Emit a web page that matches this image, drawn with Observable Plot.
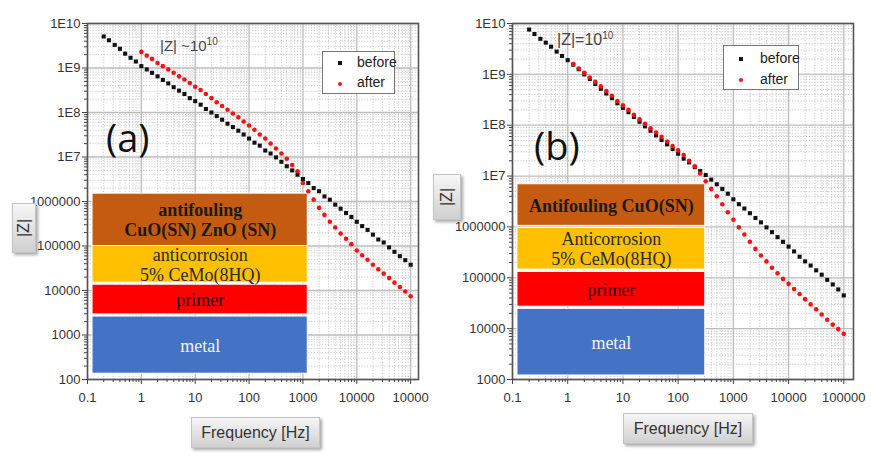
<!DOCTYPE html>
<html><head><meta charset="utf-8">
<script src="https://cdn.jsdelivr.net/npm/d3@7"></script>
<script src="https://cdn.jsdelivr.net/npm/@observablehq/plot@0.6"></script>
<style>
body{margin:0;background:#fff;}
#wrap{position:relative;width:871px;height:456px;overflow:hidden;font-family:"Liberation Sans",Arial,sans-serif;}
.panel{position:absolute;top:0;}
.btn{position:absolute;background:linear-gradient(#f6f6f6,#d0d0d0);border:1px solid #c4c4c4;box-shadow:2px 2px 3px rgba(0,0,0,0.35);color:#333;display:flex;align-items:center;justify-content:center;font-size:16px;box-sizing:border-box;}
.legend{position:absolute;border:1px solid #777;background:#fff;font-size:14px;color:#222;box-sizing:border-box;}
.legend span{position:absolute;}
.mk{width:4px;height:4px;}
.ann{position:absolute;font-size:15px;color:#444;white-space:nowrap;}
.ann sup{font-size:10px;}
.big{position:absolute;font-family:"Open Sans","Noto Sans",sans-serif;font-size:38px;color:#111;line-height:1;}
</style>
</head><body>
<div id="wrap"></div>
<script>
// ---------- data ----------
const freq = [0.2, 0.25, 0.32, 0.4, 0.5, 0.63, 0.79,
  1, 1.26, 1.58, 2, 2.51, 3.16, 3.98, 5.01, 6.31, 7.94,
  10, 12.6, 15.8, 20, 25.1, 31.6, 39.8, 50.1, 63.1, 79.4,
  100, 126, 158, 200, 251, 316, 398, 501, 631, 794,
  1000, 1259, 1585, 1995, 2512, 3162, 3981, 5012, 6310, 7943,
  10000, 12589, 15849, 19953, 25119, 31623, 39811, 50119, 63096, 79433,
  100000];

const zBeforeA = [5.1e9, 4.2e9, 3.3e9, 2.7e9, 2.1e9, 1.7e9, 1.4e9,
  1.1e9, 9.3e8, 7.8e8, 6.5e8, 5.4e8, 4.5e8, 3.7e8, 3.1e8, 2.6e8, 2.1e8,
  1.8e8, 1.5e8, 1.2e8, 1.0e8, 8.3e7, 6.9e7, 5.6e7, 4.7e7, 3.9e7, 3.2e7,
  2.6e7, 2.1e7, 1.8e7, 1.4e7, 1.2e7, 9.8e6, 7.8e6, 6.2e6, 5.0e6, 4.0e6,
  3.2e6, 2.6e6, 2.0e6, 1.7e6, 1.3e6, 1.1e6, 8.5e5, 6.9e5, 5.5e5, 4.5e5,
  3.5e5, 2.8e5, 2.3e5, 1.8e5, 1.4e5, 1.2e5, 9.3e4, 7.4e4, 5.9e4, 4.8e4,
  3.8e4];
const freqAfterA = freq.slice(7);
const zAfterA = [2.3e9, 1.9e9, 1.6e9, 1.3e9, 1.1e9, 9.3e8, 7.8e8, 6.5e8, 5.5e8, 4.6e8,
  3.8e8, 3.2e8, 2.6e8, 2.1e8, 1.7e8, 1.4e8, 1.15e8, 9.5e7, 7.8e7, 6.3e7,
  5.1e7, 4.1e7, 3.2e7, 2.6e7, 2.0e7, 1.55e7, 1.2e7, 9.1e6, 6.6e6, 4.8e6,
  2.6e6, 1.7e6, 1.1e6, 7.2e5, 5.0e5, 3.5e5, 2.6e5, 1.9e5, 1.45e5, 1.1e5,
  7.9e4, 6.2e4, 4.9e4, 3.8e4, 3.0e4, 2.4e4, 1.9e4, 1.5e4, 1.2e4, 9.5e3,
  7.4e3];

const zBeforeB = [7.6e9, 6.2e9, 5.0e9, 4.2e9, 3.5e9, 2.8e9, 2.3e9,
  1.9e9, 1.55e9, 1.26e9, 1.0e9, 8.1e8, 6.5e8, 5.2e8, 4.2e8, 3.4e8, 2.7e8,
  2.2e8, 1.8e8, 1.45e8, 1.17e8, 9.5e7, 7.8e7, 6.3e7, 5.1e7, 4.2e7, 3.4e7,
  2.75e7, 2.2e7, 1.86e7, 1.5e7, 1.26e7, 1.05e7, 8.5e6, 6.9e6, 5.6e6, 4.5e6,
  3.5e6, 2.8e6, 2.3e6, 1.86e6, 1.5e6, 1.23e6, 9.8e5, 7.9e5, 6.3e5, 5.1e5,
  4.1e5, 3.3e5, 2.6e5, 2.1e5, 1.74e5, 1.4e5, 1.15e5, 9.1e4, 7.4e4, 5.9e4,
  4.5e4];
const freqAfterB = freq.slice(8);
const zAfterB = [1.6e9, 1.3e9, 1.07e9, 8.7e8, 7.1e8, 5.8e8, 4.7e8, 3.8e8, 3.0e8, 2.45e8,
  2.0e8, 1.6e8, 1.3e8, 1.07e8, 8.7e7, 7.2e7, 5.9e7, 4.8e7, 3.9e7, 3.2e7,
  2.6e7, 2.0e7, 1.55e7, 1.12e7, 7.9e6, 5.6e6, 4.0e6, 2.8e6, 1.95e6, 1.38e6,
  9.8e5, 7.1e5, 5.1e5, 3.7e5, 2.75e5, 2.1e5, 1.58e5, 1.23e5, 9.5e4, 7.6e4,
  6.0e4, 4.8e4, 3.8e4, 3.0e4, 2.4e4, 1.9e4, 1.5e4, 1.2e4, 9.8e3, 7.9e3];

// tick labels
const xTickValuesA = [0.1, 1, 10, 100, 1000, 10000, 100000];
const xTickLabelsA = ["0.1", "1", "10", "100", "1000", "10000", "10000"];
const xTickValuesB = [0.1, 1, 10, 100, 1000, 10000, 100000];
const xTickLabelsB = ["0.1", "1", "10", "100", "1000", "10000", "100000"];
const yTickValuesA = [100, 1000, 10000, 100000, 1000000, 1e7, 1e8, 1e9, 1e10];
const yTickLabelsA = ["100", "1000", "10000", "100000", "1000000", "1E7", "1E8", "1E9", "1E10"];
const yTickValuesB = [1000, 10000, 100000, 1000000, 1e7, 1e8, 1e9, 1e10];
const yTickLabelsB = ["1000", "10000", "100000", "1000000", "1E7", "1E8", "1E9", "1E10"];

// coating layers (extent in chart units)
const layerNamesA = ["antifouling\nCuO(SN) ZnO (SN)", "anticorrosion\n5% CeMo(8HQ)", "primer", "metal"];
const layerZTopA = [1.5e6, 1.0e5, 1.35e4, 2.6e3];
const layerZBottomA = [1.0e5, 1.5e4, 2.9e3, 135];
const layerFreqA = [0.124, 1230];
const layerNamesB = ["Antifouling CuO(SN)", "Anticorrosion\n5% CeMo(8HQ)", "primer", "metal"];
const layerZTopB = [6.9e6, 9.6e5, 1.3e5, 2.45e4];
const layerZBottomB = [1.05e6, 1.45e5, 2.7e4, 1.2e3];
const layerFreqB = [0.123, 310];
const layerColors = ["#C55A11", "#FFC000", "#FF0000", "#4472C4"];
const layerTextColors = ["#1a1a1a", "#2a2a2a", "#2a0000", "#f2f2f2"];
const layerBold = [true, false, false, false];

function minorTicks(domain) {
  const out = [];
  const e0 = Math.floor(Math.log10(domain[0])), e1 = Math.ceil(Math.log10(domain[1]));
  for (let e = e0; e <= e1; e++) for (let m = 2; m <= 9; m++) {
    const v = m * Math.pow(10, e);
    if (v > domain[0] && v < domain[1]) out.push(v);
  }
  return out;
}

function panel(o) {
  const xLab = new Map(o.xTicks.map((v, i) => [v, o.xLabels[i]]));
  const yLab = new Map(o.yTicks.map((v, i) => [v, o.yLabels[i]]));
  const mx = minorTicks(o.xDomain), my = minorTicks(o.yDomain);
  const before = o.freqB.map((f, i) => ({f, z: o.zB[i]}));
  const after = o.freqA.map((f, i) => ({f, z: o.zA[i]}));
  const layers = o.names.map((n, i) => ({name: n, x1: o.lf[0], x2: o.lf[1], y1: o.bot[i], y2: o.top[i],
    xc: Math.sqrt(o.lf[0] * o.lf[1]), yc: Math.sqrt(o.bot[i] * o.top[i]), i}));
  const textMarks = layers.map(L => Plot.text([L], {x: "xc", y: "yc", text: "name",
    fill: layerTextColors[L.i], fontFamily: "Liberation Serif, Times New Roman, serif",
    fontSize: 18, fontWeight: layerBold[L.i] ? "bold" : "normal", lineHeight: 1.12}));
  return Plot.plot({
    width: o.width, height: 420,
    marginLeft: o.ml, marginRight: o.mr, marginTop: 23, marginBottom: 41,
    style: {fontFamily: "Liberation Sans, Arial, sans-serif", fontSize: "13px", color: "#333", background: "transparent", overflow: "visible"},
    x: {type: "log", domain: o.xDomain, axis: null},
    y: {type: "log", domain: o.yDomain, axis: null},
    marks: [
      Plot.ruleX(mx, {stroke: "#c4c4c4", strokeDasharray: "1.2,1.6", strokeWidth: 0.9}),
      Plot.ruleY(my, {stroke: "#c4c4c4", strokeDasharray: "1.2,1.6", strokeWidth: 0.9}),
      Plot.ruleX(o.xTicks, {stroke: "#bdbdbd", strokeWidth: 1.3}),
      Plot.ruleY(o.yTicks, {stroke: "#bdbdbd", strokeWidth: 1.3}),
      Plot.rect(layers, {x1: "x1", x2: "x2", y1: "y1", y2: "y2", fill: (d) => layerColors[d.i], stroke: "#fff", strokeWidth: 1}),
      ...textMarks,
      Plot.dot(before, {x: "f", y: "z", symbol: "square", r: 2.3, fill: "#111", stroke: "none"}),
      Plot.dot(after, {x: "f", y: "z", symbol: "circle", r: 2.3, fill: "#ff1010", stroke: "none"}),
      Plot.frame({stroke: "#555", strokeWidth: 1.6}),
      Plot.axisX(o.xTicks, {tickSize: 5, tickPadding: 8, tickFormat: d => xLab.get(d), label: null, stroke: "#444"}),
      Plot.axisX(mx, {tickSize: 3, tickFormat: () => "", label: null, stroke: "#444"}),
      Plot.axisY(o.yTicks, {tickSize: 5, tickPadding: 2, tickFormat: d => yLab.get(d), label: null, stroke: "#444"}),
      Plot.axisY(my, {tickSize: 3, tickFormat: () => "", label: null, stroke: "#444"})
    ]
  });
}

const wrap = document.getElementById("wrap");
function add(node, left) { node.classList.add("panel"); node.style.left = left + "px"; wrap.appendChild(node); }

add(panel({width: 430, ml: 87, mr: 12, xDomain: [0.1, 1.4e5], yDomain: [100, 1e10],
  xTicks: xTickValuesA, xLabels: xTickLabelsA, yTicks: yTickValuesA, yLabels: yTickLabelsA,
  freqB: freq, zB: zBeforeA, freqA: freqAfterA, zA: zAfterA,
  names: layerNamesA, top: layerZTopA, bot: layerZBottomA, lf: layerFreqA}), 0);
add(panel({width: 441, ml: 82, mr: 18, xDomain: [0.1, 1.5e5], yDomain: [1000, 1e10],
  xTicks: xTickValuesB, xLabels: xTickLabelsB, yTicks: yTickValuesB, yLabels: yTickLabelsB,
  freqB: freq, zB: zBeforeB, freqA: freqAfterB, zA: zAfterB,
  names: layerNamesB, top: layerZTopB, bot: layerZBottomB, lf: layerFreqB}), 430);

function el(html) { const d = document.createElement("div"); d.innerHTML = html; const n = d.firstElementChild; wrap.appendChild(n); return n; }

// legends
el(`<div class="legend" style="left:322px;top:51px;width:73px;height:43px">
 <span class="mk" style="left:15px;top:9px;background:#111"></span><span style="left:34px;top:2px">before</span>
 <span class="mk" style="left:15px;top:30px;background:#ff1010;border-radius:50%"></span><span style="left:34px;top:22px">after</span></div>`);
el(`<div class="legend" style="left:723px;top:45px;width:76px;height:45px">
 <span class="mk" style="left:15px;top:11px;background:#111"></span><span style="left:36px;top:4px">before</span>
 <span class="mk" style="left:15px;top:32px;background:#ff1010;border-radius:50%"></span><span style="left:36px;top:25px">after</span></div>`);

// annotations
el(`<div class="ann" style="left:160px;top:36px">|Z| ~10<sup>10</sup></div>`);
el(`<div class="ann" style="left:557px;top:30px;font-size:16px">|Z|=10<sup>10</sup></div>`);
el(`<div class="big" style="left:106px;top:118px">(a)</div>`);
el(`<div class="big" style="left:534px;top:126px">(b)</div>`);

// axis title buttons
el(`<div class="btn" style="left:12px;top:203px;width:24px;height:50px"><span style="transform:rotate(-90deg);display:inline-block">|Z|</span></div>`);
el(`<div class="btn" style="left:433px;top:174px;width:28px;height:46px"><span style="transform:rotate(-90deg);display:inline-block">|Z|</span></div>`);
el(`<div class="btn" style="left:191px;top:417px;width:129px;height:31px">Frequency [Hz]</div>`);
el(`<div class="btn" style="left:623px;top:413px;width:130px;height:31px">Frequency [Hz]</div>`);
</script>
</body></html>
